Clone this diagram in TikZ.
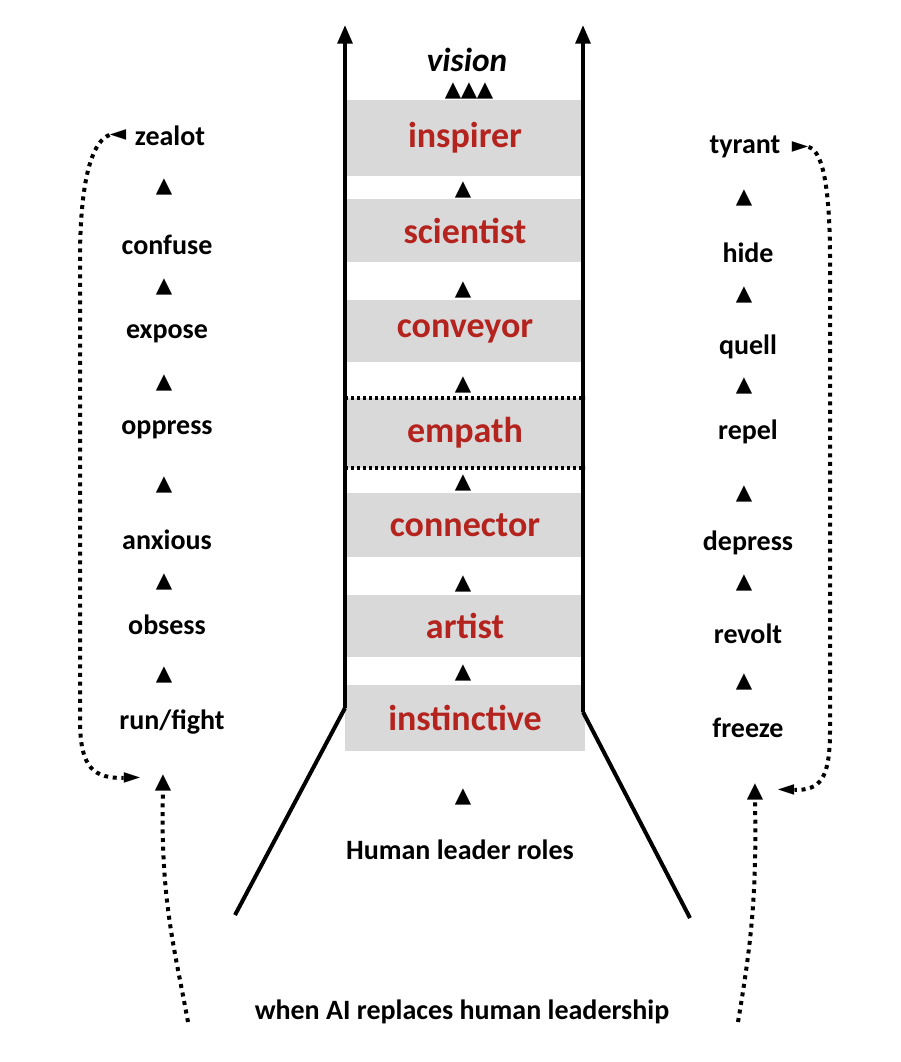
\documentclass[tikz,border=0pt]{standalone}
\usepackage{fontspec}
\setmainfont{Carlito}
\newfontfamily\sym{DejaVu Sans}
\usetikzlibrary{arrows.meta}
\definecolor{rred}{RGB}{180,35,30}
\definecolor{gbox}{RGB}{217,217,217}
\begin{document}
\begin{tikzpicture}[x=0.75pt,y=-0.75pt,
  w/.style={font=\fontsize{21}{23}\selectfont\bfseries},
  r/.style={font=\fontsize{27}{30}\selectfont\bfseries,text=rred},
  t/.style={font=\sym\fontsize{16}{17}\selectfont,inner sep=0pt},
  dots/.style={line width=3pt,dash pattern=on 3pt off 3.5pt},
  lane/.style={line width=3pt,-{Triangle[length=14pt,width=11pt]}}]
\useasboundingbox (0,0) rectangle (900,1062);
% boxes
\foreach \n/\a/\b/\s in {ins/100/176/inspirer,sci/199/262/scientist,con/300/362/conveyor,emp/398/468/empath,cnn/493/557/connector,art/595/657/artist,inst/685/751/instinctive}{
  \fill[gbox] (345,\a) rectangle (585,\b);
  \node[r] (\n) at (465,{(\a+\b)/2}) {\s};
}
\draw[line width=2.4pt,dash pattern=on 2.5pt off 2pt] (345,398)--(585,398) (345,468)--(585,468);
% lanes
\coordinate (l0) at (235,915); \coordinate (l1) at (345,708); \coordinate (l2) at (345,25);
\coordinate (r0) at (690,918); \coordinate (r1) at (583,712); \coordinate (r2) at (583,25);
\draw[line width=3pt] (l0)--(l1); \draw[lane] (l1)--(l2);
\draw[line width=3pt] (r0)--(r1); \draw[lane] (r1)--(r2);
% center
\node[font=\fontsize{25}{27}\selectfont\bfseries\itshape] (vis) at (467,60) {vision};
\node[t] at (453,91) {▲};\node[t] at (469,91) {▲};\node[t] at (485,91) {▲};
\foreach \y in {190,290,385,483,584,673,797}{\node[t] at (463,\y) {▲};}
\node[w] (hlr) at (460,850) {Human leader roles};
\node[w] (ai) at (462,1012) {when AI replaces human leadership};
% left column
\node[w] (zea) at (170,136) {zealot};
\node[t] (zt) at (118,135) {◄};
\foreach \y/\s in {245/confuse,334/expose,430/oppress,540/anxious,625/obsess}{\node[w] at (167,\y) {\s};}
\node[w] at (172,722) {run/fight};
\foreach \y in {187,287,383,485,582,675}{\node[t] at (164,\y) {▲};}
\node[t] (lb) at (163,783) {▲};
\node[t] (la) at (132,778) {►};
% right column
\node[w] (tyr) at (745,147) {tyrant};
\node[t] (rt) at (800,147) {►};
\foreach \y/\s in {253/hide,347/quell,432/repel,543/depress,634/revolt,728/freeze}{\node[w] at (748,\y) {\s};}
\foreach \y in {198,295,386,494,583,682}{\node[t] at (744,\y) {▲};}
\node[t] (rb) at (755,792) {▲};
\node[t] (ra) at (786,790) {◄};
% dotted connectors
\draw[dots] (zt.west) .. controls (95,140) and (80,170) .. (80,260) -- (80,720) .. controls (80,770) and (95,778) .. (la.west);
\draw[dots] (188,1022) .. controls (175,950) and (160,900) .. (lb.south);
\draw[dots] (rt.east) .. controls (820,150) and (830,175) .. (830,260) -- (830,730) .. controls (830,780) and (820,790) .. (ra.east);
\draw[dots] (738,1022) .. controls (750,950) and (757,900) .. (rb.south);
\end{tikzpicture}
\end{document}
